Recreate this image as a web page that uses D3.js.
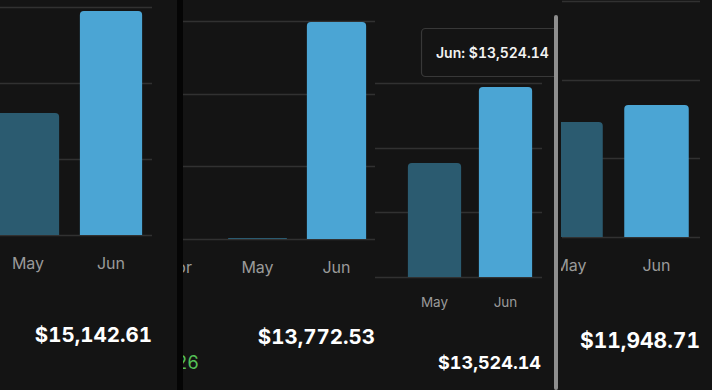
<!DOCTYPE html>
<html>
<head>
<meta charset="utf-8">
<script src="https://cdn.jsdelivr.net/npm/d3@7"></script>
<style>
  html, body { margin: 0; padding: 0; background: #141414; }
  svg { display: block; }
  .num { font-variant-numeric: tabular-nums; font-feature-settings: "tnum" 1; }
</style>
</head>
<body>
<svg width="712" height="390"></svg>
<script>
// month labels on each x axis (Apr is mostly cut off at the panel edges)
const months = ["Apr", "May", "Jun"];
const barMonths = ["May", "Jun"];

// one entry per screenshot panel, left to right
const mayValues = [8247, 60, 8115, 10410];
const junValues = [15142.61, 13772.53, 13524.14, 11948.71];
const gridMax = [15413, 13836, 13809, 21375];
const totalLabels = ["$15,142.61", "$13,772.53", "$13,524.14", "$11,948.71"];
const tooltipText = "Jun: $13,524.14";
const changeText = "26";

const svg = d3.select("svg");
const width = +svg.attr("width");
const height = +svg.attr("height");

// layout of each cropped panel
const panels = [
    { clip: [0, 177], range: [-96.5, 152.5], grid: [0, 152], base: 235, top: 7, labelY: 263, labelSize: 16, totalX: 152, totalY: 335, totalSize: 20.5 },
    { clip: [183, 375], range: [139, 376], grid: [183, 375], base: 239, top: 21, labelY: 267, labelSize: 16, totalX: 375, totalY: 337, totalSize: 20.5 },
    { clip: [375, 554], range: [328, 541], grid: [375, 542], base: 277, top: 83, labelY: 302, labelSize: 13.5, totalX: 541, totalY: 363, totalSize: 18 },
    { clip: [561, 712], range: [441.5, 699.5], grid: [562, 700], base: 237, top: 1, labelY: 265, labelSize: 16, totalX: 700, totalY: 340, totalSize: 21 }
];

const colorFor = { May: "#2b5b70", Jun: "#4ba5d4" };

svg.append("rect").attr("width", width).attr("height", height).attr("fill", "#141414");

const defs = svg.append("defs");

// path for a bar with rounded top corners only
function barPath(x, y, w, h, r) {
    r = Math.min(r, h, w / 2);
    return `M${x},${y + h}V${y + r}Q${x},${y} ${x + r},${y}H${x + w - r}Q${x + w},${y} ${x + w},${y + r}V${y + h}Z`;
}

panels.forEach((p, i) => {
    defs.append("clipPath").attr("id", "clip" + i)
        .append("rect")
        .attr("x", p.clip[0]).attr("y", 0)
        .attr("width", p.clip[1] - p.clip[0]).attr("height", height);

    const g = svg.append("g").attr("clip-path", `url(#clip${i})`);

    const x = d3.scaleBand()
        .domain(months)
        .range(p.range)
        .paddingInner(0.25)
        .paddingOuter(0.125);

    const y = d3.scaleLinear()
        .domain([0, gridMax[i]])
        .range([p.base, p.top]);

    // gridlines
    const ticks = [0, 1, 2, 3].map(k => gridMax[i] * k / 3);
    g.selectAll(".grid")
        .data(ticks)
        .enter().append("line")
        .attr("x1", p.grid[0]).attr("x2", p.grid[1])
        .attr("y1", d => Math.round(y(d)) + 0.5)
        .attr("y2", d => Math.round(y(d)) + 0.5)
        .attr("stroke", "#313131")
        .attr("stroke-width", 1.3);

    // bars
    const vals = { May: mayValues[i], Jun: junValues[i] };
    g.selectAll(".bar")
        .data(barMonths)
        .enter().append("path")
        .attr("d", m => barPath(x(m), y(vals[m]), x.bandwidth(), y(0) - y(vals[m]), 4))
        .attr("fill", m => colorFor[m]);

    // month labels (skip the ones that fall fully outside this crop)
    const half = p.labelSize;
    g.selectAll(".lbl")
        .data(months.filter(m => {
            const c = x(m) + x.bandwidth() / 2;
            return c + half > p.clip[0] && c - half < p.clip[1];
        }))
        .enter().append("text")
        .attr("x", m => x(m) + x.bandwidth() / 2)
        .attr("y", p.labelY)
        .attr("dy", "0.36em")
        .attr("text-anchor", "middle")
        .attr("font-family", "Inter, 'Noto Sans', sans-serif")
        .attr("font-size", p.labelSize)
        .attr("fill", "#9a9a9a")
        .text(m => m);

    // total value
    g.append("text")
        .attr("class", "num")
        .attr("x", p.totalX)
        .attr("y", p.totalY)
        .attr("dy", "0.36em")
        .attr("text-anchor", "end")
        .attr("font-family", "Inter, 'Noto Sans', sans-serif")
        .attr("font-weight", 700)
        .attr("font-size", p.totalSize)
        .attr("fill", "#ffffff")
        .text(totalLabels[i]);

    if (i === 1) {
        g.append("text")
            .attr("class", "num")
            .attr("x", 199).attr("y", 363)
            .attr("dy", "0.36em")
            .attr("text-anchor", "end")
            .attr("font-family", "Inter, 'Noto Sans', sans-serif")
            .attr("font-size", 18)
            .attr("fill", "#55c157")
            .text(changeText);
    }

    if (i === 2) {
        // tooltip box for the selected bar
        g.append("rect")
            .attr("x", 421.5).attr("y", 28.5)
            .attr("width", 160).attr("height", 48)
            .attr("rx", 4)
            .attr("fill", "#141414")
            .attr("stroke", "#383838")
            .attr("stroke-width", 1.2);
        g.append("text")
            .attr("class", "num")
            .attr("x", 436).attr("y", 53)
            .attr("dy", "0.36em")
            .attr("font-family", "Inter, 'Noto Sans', sans-serif")
            .attr("font-weight", 600)
            .attr("font-size", 14)
            .attr("fill", "#f2f2f2")
            .text(tooltipText);
    }
});

// separators between the screenshots
svg.append("rect").attr("x", 177).attr("y", 0).attr("width", 6).attr("height", height).attr("fill", "#050505");
svg.append("rect").attr("x", 554).attr("y", 15).attr("width", 4).attr("height", height - 15).attr("rx", 2).attr("fill", "#8e8e8e");
</script>
</body>
</html>
